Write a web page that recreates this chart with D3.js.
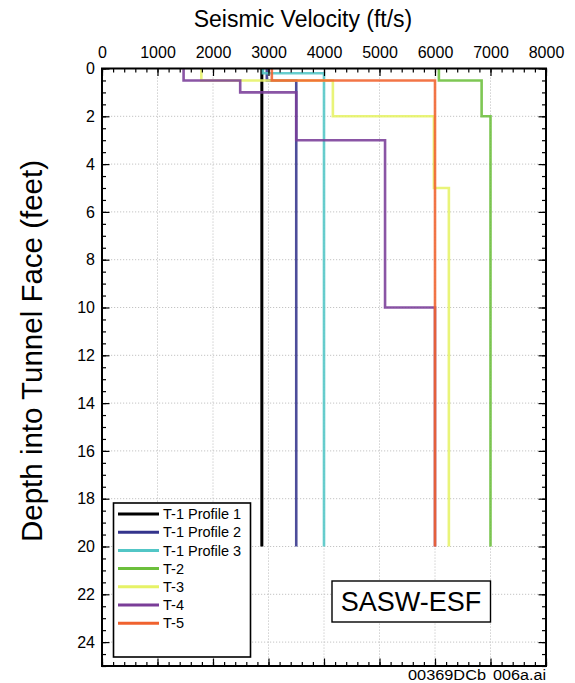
<!DOCTYPE html>
<html>
<head>
<meta charset="utf-8">
<script src="https://cdn.jsdelivr.net/npm/d3@7/dist/d3.min.js"></script>
<style>
  html, body { margin: 0; padding: 0; background: #fff; }
  svg { display: block; }
  text { font-family: "Liberation Sans", Arial, Helvetica, sans-serif; fill: #000; }
</style>
</head>
<body>
<svg id="chart" width="575" height="683"></svg>
<script>
// Seismic velocity profiles (SASW) — layer tops in feet, layer velocities in ft/s
const seriesNames = ["T-1 Profile 1", "T-1 Profile 2", "T-1 Profile 3", "T-2", "T-3", "T-4", "T-5"];

const topsT1P1 = [0];
const velT1P1  = [2880];

const topsT1P2 = [0, 0.5];
const velT1P2  = [2970, 3500];

const topsT1P3 = [0, 0.2];
const velT1P3  = [2900, 4000];

const topsT2 = [0, 0.5, 2];
const velT2  = [6070, 6840, 7000];

const topsT3 = [0, 0.5, 2, 5];
const velT3  = [1790, 4160, 5980, 6250];

const topsT4 = [0, 0.5, 1, 3, 10];
const velT4  = [1470, 2490, 3500, 5100, 6000];

const topsT5 = [0, 0.5];
const velT5  = [3060, 6000];

const profileBottom = 20;   // all profiles end at 20 ft

const xTicks = [0, 1000, 2000, 3000, 4000, 5000, 6000, 7000, 8000];
const yTicks = [0, 2, 4, 6, 8, 10, 12, 14, 16, 18, 20, 22, 24];

const seriesTops = [topsT1P1, topsT1P2, topsT1P3, topsT2, topsT3, topsT4, topsT5];
const seriesVels = [velT1P1, velT1P2, velT1P3, velT2, velT3, velT4, velT5];
const seriesColors = ["#000000", "#34348c", "#52c6c6", "#6cbf3c", "#e6f266", "#7a3d98", "#f0622e"];

// ---- layout ----
const svg = d3.select("#chart");
const L = 102, R = 546, T = 68.5, B = 666;

const x = d3.scaleLinear().domain([0, 8000]).range([L, R]);
const y = d3.scaleLinear().domain([0, 25]).range([T, B]);

const xMinor = d3.range(0, 8001, 200);
const yMinor = d3.range(0, 25.01, 0.5);

// dotted grid at the labelled values
const grid = svg.append("g").attr("stroke", "#c4c4c4").attr("stroke-width", 1)
  .attr("stroke-dasharray", "1.2,1.8");
grid.selectAll("line.gx").data(xTicks.filter(d => d > 0 && d < 8000)).join("line")
  .attr("x1", d => x(d)).attr("x2", d => x(d)).attr("y1", T).attr("y2", B);
grid.selectAll("line.gy").data(yTicks.filter(d => d > 0)).join("line")
  .attr("x1", L).attr("x2", R).attr("y1", d => y(d)).attr("y2", d => y(d));

// step paths for each profile
function stepPoints(tops, vels) {
  const pts = [];
  tops.forEach((t, i) => {
    const bot = i < tops.length - 1 ? tops[i + 1] : profileBottom;
    pts.push([vels[i], t], [vels[i], bot]);
  });
  return pts;
}
const line = d3.line().x(d => x(d[0])).y(d => y(d[1]));

const lines = svg.append("g").attr("fill", "none")
  .attr("stroke-linejoin", "miter").attr("stroke-linecap", "butt");
seriesNames.forEach((name, i) => {
  lines.append("path")
    .attr("d", line(stepPoints(seriesTops[i], seriesVels[i])))
    .attr("stroke", seriesColors[i])
    .attr("stroke-width", i === 0 ? 3 : 2.6)
    .attr("stroke-opacity", i === 0 ? 1 : 0.88);
});

// ticks pointing inward on all four sides
function tickAxis(gen, scale, values, size) {
  return gen(scale).tickValues(values).tickSizeInner(size).tickSizeOuter(0).tickFormat("");
}
const axes = svg.append("g");
const addAxis = (g, tr) => axes.append("g").attr("transform", tr).call(g)
  .call(s => s.select(".domain").remove())
  .call(s => s.selectAll(".tick line").attr("stroke", "#000").attr("stroke-width", 1.2));

addAxis(tickAxis(d3.axisTop, x, xMinor, -4), `translate(0,${T})`);
addAxis(tickAxis(d3.axisTop, x, xTicks, -7.5), `translate(0,${T})`);
addAxis(tickAxis(d3.axisBottom, x, xMinor, -4), `translate(0,${B})`);
addAxis(tickAxis(d3.axisBottom, x, xTicks, -7.5), `translate(0,${B})`);
addAxis(tickAxis(d3.axisLeft, y, yMinor, -4), `translate(${L},0)`);
addAxis(tickAxis(d3.axisLeft, y, yTicks, -7.5), `translate(${L},0)`);
addAxis(tickAxis(d3.axisRight, y, yMinor, -4), `translate(${R},0)`);
addAxis(tickAxis(d3.axisRight, y, yTicks, -7.5), `translate(${R},0)`);

// tick labels
const topLabels = svg.append("g").attr("transform", `translate(0,${T})`)
  .call(d3.axisTop(x).tickValues(xTicks).tickSize(0).tickPadding(10.5).tickFormat(d3.format("d")));
topLabels.select(".domain").remove();
topLabels.selectAll("text").style("font-size", "16px").style("font-family", null);

const leftLabels = svg.append("g").attr("transform", `translate(${L},0)`)
  .call(d3.axisLeft(y).tickValues(yTicks).tickSize(0).tickPadding(7).tickFormat(d3.format("d")));
leftLabels.select(".domain").remove();
leftLabels.selectAll("text").style("font-size", "16px").style("font-family", null);

// frame
svg.append("rect").attr("x", L).attr("y", T).attr("width", R - L).attr("height", B - T)
  .attr("fill", "none").attr("stroke", "#000").attr("stroke-width", 2);

// titles
svg.append("text").attr("x", 303).attr("y", 27).attr("text-anchor", "middle")
  .style("font-size", "23px").text("Seismic Velocity (ft/s)");
svg.append("text").attr("transform", "translate(42,351) rotate(-90)")
  .attr("text-anchor", "middle").style("font-size", "29.5px")
  .text("Depth into Tunnel Face (feet)");

// legend
const lg = svg.append("g");
lg.append("rect").attr("x", 113.5).attr("y", 503).attr("width", 137).attr("height", 154)
  .attr("fill", "#fff").attr("stroke", "#000").attr("stroke-width", 1.6);
seriesNames.forEach((name, i) => {
  const yy = 514 + i * 18.2;
  lg.append("line").attr("x1", 118).attr("x2", 159).attr("y1", yy).attr("y2", yy)
    .attr("stroke", seriesColors[i]).attr("stroke-width", 3);
  lg.append("text").attr("x", 163).attr("y", yy).attr("dy", "0.36em")
    .style("font-size", "14.5px").text(name);
});

// site label
svg.append("rect").attr("x", 332).attr("y", 581).attr("width", 158.5).attr("height", 41)
  .attr("fill", "#fff").attr("stroke", "#000").attr("stroke-width", 1.4);
svg.append("text").attr("x", 411).attr("y", 611).attr("text-anchor", "middle")
  .style("font-size", "27px").text("SASW-ESF");

// file reference
svg.append("text").attr("x", 408).attr("y", 680).style("font-size", "14px")
  .attr("textLength", 78).attr("lengthAdjust", "spacingAndGlyphs").text("00369DCb");
svg.append("text").attr("x", 493).attr("y", 680).style("font-size", "14px")
  .attr("textLength", 53).attr("lengthAdjust", "spacingAndGlyphs").text("006a.ai");
</script>
</body>
</html>
